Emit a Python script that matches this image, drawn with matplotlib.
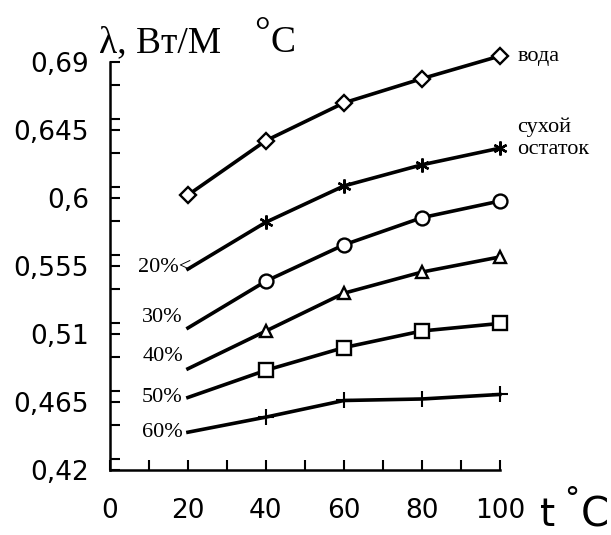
import matplotlib
matplotlib.use("Agg")
import matplotlib.pyplot as plt
from matplotlib.ticker import MultipleLocator

# temperatura, t °C
t = [20, 40, 60, 80, 100]

# conducibilità termica, λ
voda = [0.602, 0.638, 0.663, 0.679, 0.694]
suhoj = [0.553, 0.584, 0.608, 0.622, 0.633]
c20 = [0.514, 0.545, 0.569, 0.587, 0.598]
c30 = [0.487, 0.512, 0.537, 0.551, 0.561]
c40 = [0.468, 0.486, 0.501, 0.512, 0.517]
c50 = [0.445, 0.455, 0.466, 0.467, 0.470]

yticks = [0.42, 0.465, 0.51, 0.555, 0.6, 0.645, 0.69]
ylabels = ['0,42', '0,465', '0,51', '0,555', '0,6', '0,645', '0,69']
xticks = [0, 20, 40, 60, 80, 100]
perc = ['20%', '30%', '40%', '50%', '60%']

fig = plt.figure(figsize=(6.11, 5.35), dpi=100)
ax = fig.add_axes([0.18, 0.1215, 0.638, 0.7625])

lw = 2.6
kw = dict(color='black', lw=lw, markeredgewidth=1.7, clip_on=False,
          markerfacecolor='white', markeredgecolor='black')
ax.plot(t, voda, marker='D', markersize=8, **kw)
ax.plot(t, suhoj, marker=(6, 2, 0), markersize=10, markevery=[1, 2, 3, 4], **kw)
ax.plot(t, c20, marker='o', markersize=10, markevery=[1, 2, 3, 4], **kw)
ax.plot(t, c30, marker='^', markersize=9, markevery=[1, 2, 3, 4], **kw)
ax.plot(t, c40, marker='s', markersize=10, markevery=[1, 2, 3, 4], **kw)
ax.plot(t, c50, marker='+', markevery=[1, 2, 3, 4], markersize=11, color='black', lw=lw,
        markeredgewidth=1.5, clip_on=False)

ax.set_xlim(0, 100)
ax.set_ylim(0.42, 0.69)
ax.set_xticks(xticks)
ax.set_xticklabels([str(v) for v in xticks])
ax.set_yticks(yticks)
ax.set_yticklabels(ylabels)
ax.xaxis.set_minor_locator(MultipleLocator(10))
ax.yaxis.set_minor_locator(MultipleLocator(0.0225))
ax.tick_params(axis='both', which='both', direction='in', width=1.5, length=7,
               labelsize=19, labelfontfamily='DejaVu Sans')
ax.tick_params(axis='x', which='both', pad=20)
ax.tick_params(axis='y', which='both', pad=15)

ax.spines['top'].set_visible(False)
ax.spines['right'].set_visible(False)
ax.spines['left'].set_linewidth(1.8)
ax.spines['bottom'].set_linewidth(1.8)

# подписи
serif = 'Liberation Serif'
ax.text(104.5, voda[-1], 'вода', fontsize=16, family=serif, va='center', ha='left',
        clip_on=False)
ax.text(104.5, suhoj[-1] + 0.0066, 'сухой\nостаток', fontsize=16, family=serif, va='center',
        ha='left', linespacing=1.25, clip_on=False)
ybase = [0.5537, 0.5212, 0.4948, 0.4683, 0.4445]
for lbl, yy in zip(perc, ybase):
    s = lbl + '<' if lbl == '20%' else lbl
    ax.text(21 if lbl == '20%' else 18.7, yy, s, fontsize=16, family=serif,
            ha='right', va='center')

# заголовок оси y
fig.text(0.162, 0.903, 'λ, Вт/М', fontsize=27, family=serif, ha='left', va='baseline')
fig.text(0.4157, 0.918, '°', fontsize=28, family=serif, ha='left', va='baseline')
fig.text(0.4435, 0.903, 'С', fontsize=27, family=serif, ha='left', va='baseline')

# подпись оси x
fig.text(0.884, 0.016, 't', fontsize=28, family='DejaVu Sans', ha='left', va='baseline')
fig.text(0.923, 0.050, '°', fontsize=22, family='DejaVu Sans', ha='left', va='baseline')
fig.text(0.951, 0.016, 'C', fontsize=29, family='DejaVu Sans', ha='left', va='baseline')

fig.savefig('out.png', dpi=100)
